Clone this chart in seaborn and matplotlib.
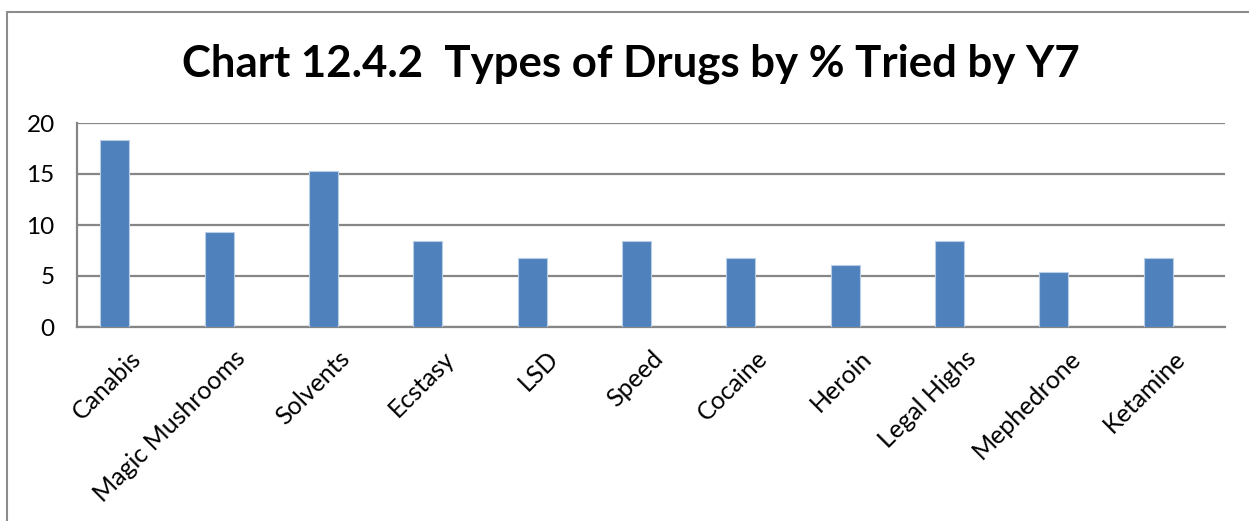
import matplotlib
matplotlib.use("Agg")
import matplotlib.pyplot as plt
from matplotlib.lines import Line2D
from matplotlib.ticker import FixedLocator
import seaborn as sns
import pandas as pd
import numpy as np

drugs = ["Canabis", "Magic Mushrooms", "Solvents", "Ecstasy", "LSD", "Speed",
         "Cocaine", "Heroin", "Legal Highs", "Mephedrone", "Ketamine"]
pct_tried = [18.3, 9.3, 15.3, 8.4, 6.8, 8.4, 6.8, 6.1, 8.4, 5.4, 6.8]
series = ["Y7", "Series2"]
series2 = [np.nan] * len(drugs)
y_ticks = [0, 5, 10, 15, 20]

df = pd.DataFrame({
    "drug": drugs * 2,
    "pct": pct_tried + series2,
    "series": [series[0]] * len(drugs) + [series[1]] * len(drugs),
})

sns.set_theme(style="white")
plt.rcParams["font.family"] = ["Lato", "DejaVu Sans"]

W, H = 1249, 521
fig = plt.figure(figsize=(W / 100, H / 100), dpi=100)
ax = fig.add_axes([77 / W, 1 - 327 / H, (1225 - 77) / W, (327 - 123) / H])

blue = "#4F81BD"
sns.barplot(data=df, x="drug", y="pct", hue="series", hue_order=series,
            palette=[blue, blue], width=0.556, dodge=True, saturation=1,
            edgecolor="#B9CDE5", linewidth=0.8, ax=ax, legend=False, zorder=3)

grid_c = "#868686"
ax.set_xlim(-0.5, len(drugs) - 0.5)
ax.set_ylim(0, 20)
ax.set_yticks(y_ticks)
ax.yaxis.grid(True, color=grid_c, linewidth=1.6, zorder=0)
ax.set_axisbelow(True)

for side in ("top", "right"):
    ax.spines[side].set_visible(False)
for side in ("left", "bottom"):
    ax.spines[side].set_color(grid_c)
    ax.spines[side].set_linewidth(1.6)

ax.set_xlabel("")
ax.set_ylabel("")

# category labels at centres, tick marks at category boundaries
ax.xaxis.set_minor_locator(FixedLocator([i - 0.5 for i in range(len(drugs) + 1)]))
ax.tick_params(axis="x", which="major", length=0, pad=14)
ax.tick_params(axis="x", which="minor", length=8, width=1.6, color=grid_c, direction="out")
ax.tick_params(axis="y", length=9, width=1.6, color=grid_c, direction="out", pad=7,
               labelsize=17.5, labelcolor="black")
for lbl in ax.get_xticklabels():
    lbl.set_rotation(45)
    lbl.set_ha("right")
    lbl.set_rotation_mode("anchor")
    lbl.set_fontsize(18)
    lbl.set_color("black")

fig.text(631 / W, 1 - 77 / H, "Chart 12.4.2  Types of Drugs by % Tried by Y7",
         ha="center", va="baseline", fontsize=31.5, fontweight="bold", color="black")

# outer chart-area frame (top and left edges visible)
frame_c = "#8C8C8C"
fig.add_artist(Line2D([7 / W, 1.0], [1 - 11.5 / H, 1 - 11.5 / H],
                      transform=fig.transFigure, color=frame_c, linewidth=1.5))
fig.add_artist(Line2D([7 / W, 7 / W], [0.0, 1 - 11.5 / H],
                      transform=fig.transFigure, color=frame_c, linewidth=1.5))

fig.savefig("out.png", dpi=100)
